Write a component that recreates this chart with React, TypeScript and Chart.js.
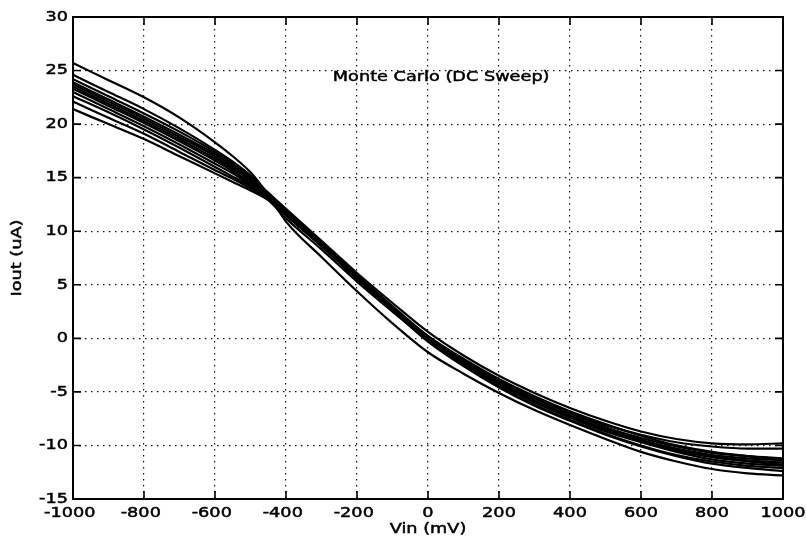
import React, { useEffect, useRef } from "react";
import { Chart, registerables } from "chart.js";

Chart.register(...registerables);

// Vin sweep (mV)
const vin = [-1000, -900, -800, -700, -600, -550, -500, -450, -400, -300, -200, -100, 0, 100, 200, 300, 400, 500, 600, 700, 800, 900, 1000];

// Monte Carlo runs, Iout (uA)
const run01 = [25.7, 24.1, 22.5, 20.6, 18.3, 17.0, 15.5, 13.4, 10.9, 7.6, 4.4, 1.4, -1.3, -3.3, -5.1, -6.7, -8.1, -9.4, -10.6, -11.5, -12.2, -12.6, -12.8];
const run02 = [24.6, 23.0, 21.4, 19.6, 17.6, 16.5, 15.2, 13.5, 11.9, 8.9, 5.8, 2.9, 0.2, -1.9, -3.8, -5.4, -6.8, -8.0, -9.1, -10.0, -10.6, -11.0, -11.3];
const run03 = [24.2, 22.6, 21.0, 19.3, 17.4, 16.3, 15.1, 13.6, 12.1, 9.1, 6.1, 3.3, 0.6, -1.6, -3.5, -5.1, -6.5, -7.7, -8.7, -9.4, -9.8, -9.9, -9.8];
const run04 = [23.9, 22.3, 20.7, 19.0, 17.2, 16.1, 14.9, 13.4, 11.9, 8.9, 5.9, 3.0, 0.2, -2.0, -3.9, -5.6, -7.0, -8.3, -9.3, -10.1, -10.7, -11.0, -11.2];
const run05 = [23.7, 22.1, 20.5, 18.8, 17.0, 15.9, 14.8, 13.3, 11.8, 8.8, 5.8, 2.9, 0.0, -2.2, -4.1, -5.8, -7.2, -8.5, -9.5, -10.4, -11.0, -11.4, -11.6];
const run06 = [23.5, 21.9, 20.3, 18.6, 16.8, 15.8, 14.7, 13.3, 11.9, 8.9, 5.9, 2.9, 0.0, -2.3, -4.3, -6.0, -7.4, -8.7, -9.7, -10.6, -11.3, -11.7, -11.9];
const run07 = [23.3, 21.7, 20.1, 18.4, 16.6, 15.6, 14.5, 13.2, 11.7, 8.7, 5.7, 2.7, -0.2, -2.5, -4.5, -6.2, -7.6, -8.9, -10.0, -10.9, -11.5, -11.9, -12.1];
const run08 = [23.0, 21.4, 19.8, 18.1, 16.3, 15.4, 14.3, 13.1, 11.5, 8.6, 5.5, 2.6, -0.3, -2.6, -4.6, -6.3, -7.7, -9.0, -10.1, -11.0, -11.7, -12.1, -12.4];
const run09 = [22.6, 21.1, 19.5, 17.8, 16.0, 15.1, 14.2, 13.1, 11.7, 8.8, 5.8, 2.9, 0.1, -2.1, -4.0, -5.6, -7.0, -8.1, -9.0, -9.7, -10.1, -10.3, -10.3];
const run10 = [22.1, 20.6, 19.1, 17.4, 15.7, 14.9, 14.0, 13.0, 11.5, 8.6, 5.6, 2.7, -0.1, -2.3, -4.2, -5.9, -7.3, -8.6, -9.6, -10.5, -11.1, -11.5, -11.8];
const run11 = [21.4, 20.0, 18.6, 17.0, 15.4, 14.6, 13.8, 12.9, 11.2, 8.3, 5.3, 2.5, -0.2, -2.4, -4.3, -5.9, -7.3, -8.5, -9.5, -10.3, -10.9, -11.2, -11.4];

const runs = [run01, run02, run03, run04, run05, run06, run07, run08, run09, run10, run11];

const xTickValues = [-1000, -800, -600, -400, -200, 0, 200, 400, 600, 800, 1000];
const yTickValues = [-15, -10, -5, 0, 5, 10, 15, 20, 25, 30];

const annotationText = "Monte Carlo (DC Sweep)";
const annotationAt = { x: -268, y: 24.4 };
const xTitle = "Vin (mV)";
const yTitle = "Iout (uA)";

const FONT = '14.5px "DejaVu Sans"';
const SX = 1.22;

function drawText(ctx: CanvasRenderingContext2D, s: string, x: number, y: number, align: CanvasTextAlign, rotate = false) {
  ctx.save();
  ctx.translate(x, y);
  if (rotate) ctx.rotate(-Math.PI / 2);
  ctx.scale(SX, 1);
  ctx.textAlign = align;
  ctx.textBaseline = "middle";
  ctx.lineWidth = 0.5;
  ctx.strokeStyle = "#000";
  ctx.fillText(s, 0, 0);
  ctx.strokeText(s, 0, 0);
  ctx.restore();
}

const overlay = {
  id: "overlay",
  afterDatasetsDraw(chart: any) {
    const { ctx, chartArea: a, scales } = chart;
    const xs = scales.x;
    const ys = scales.y;
    ctx.save();
    ctx.strokeStyle = "#000";
    ctx.lineWidth = 2;
    ctx.setLineDash([]);
    ctx.strokeRect(a.left, a.top, a.right - a.left, a.bottom - a.top);

    ctx.lineWidth = 1.6;
    ctx.beginPath();
    for (const v of xTickValues) {
      const px = xs.getPixelForValue(v);
      ctx.moveTo(px, a.bottom);
      ctx.lineTo(px, a.bottom - 8);
      ctx.moveTo(px, a.top);
      ctx.lineTo(px, a.top + 8);
    }
    for (const v of yTickValues) {
      const py = ys.getPixelForValue(v);
      ctx.moveTo(a.left, py);
      ctx.lineTo(a.left + 8, py);
      ctx.moveTo(a.right, py);
      ctx.lineTo(a.right - 8, py);
    }
    ctx.stroke();

    ctx.fillStyle = "#000";
    ctx.font = FONT;
    for (const v of yTickValues) {
      drawText(ctx, String(v), a.left - 5, ys.getPixelForValue(v), "right");
    }
    for (const v of xTickValues) {
      const digits = String(Math.abs(v));
      const w = ctx.measureText(digits).width * SX;
      drawText(ctx, String(v), xs.getPixelForValue(v) + w / 2, a.bottom + 14.5, "right");
    }
    drawText(ctx, xTitle, xs.getPixelForValue(0), a.bottom + 30, "center");
    drawText(ctx, yTitle, 17, (a.top + a.bottom) / 2, "center", true);
    drawText(ctx, annotationText, xs.getPixelForValue(annotationAt.x), ys.getPixelForValue(annotationAt.y), "left");
    ctx.restore();
  },
};

export default function App() {
  const ref = useRef<HTMLCanvasElement | null>(null);

  useEffect(() => {
    document.body.style.margin = "0";
    const canvas = ref.current;
    if (!canvas) return;
    const chart = new Chart(canvas, {
      type: "line",
      data: {
        datasets: runs.map((r, i) => ({
          label: "run " + (i + 1),
          data: vin.map((v, k) => ({ x: v, y: r[k] })),
          borderColor: "#000",
          borderWidth: 2.2,
          pointRadius: 0,
          fill: false,
          cubicInterpolationMode: "monotone" as const,
        })),
      },
      options: {
        animation: false,
        responsive: false,
        events: [],
        layout: { padding: { top: 17, right: 23, left: 0, bottom: 0 } },
        plugins: { legend: { display: false }, tooltip: { enabled: false } },
        scales: {
          x: {
            type: "linear",
            min: -1000,
            max: 1000,
            ticks: { display: false, stepSize: 200 },
            grid: { color: "#111", lineWidth: 1.2, drawTicks: false, tickLength: 0 },
            border: { display: false, dash: [1.5, 4.5] },
            afterFit: (s: any) => { s.height = 40; },
          },
          y: {
            type: "linear",
            min: -15,
            max: 30,
            ticks: { display: false, stepSize: 5 },
            grid: { color: "#111", lineWidth: 1.2, drawTicks: false, tickLength: 0 },
            border: { display: false, dash: [1.5, 4.5] },
            afterFit: (s: any) => { s.width = 73; },
          },
        },
      },
      plugins: [overlay],
    });
    return () => chart.destroy();
  }, []);

  return (
    <div style={{ width: 806, height: 539, background: "#fff" }}>
      <canvas ref={ref} width={806} height={539} style={{ display: "block" }} />
    </div>
  );
}
